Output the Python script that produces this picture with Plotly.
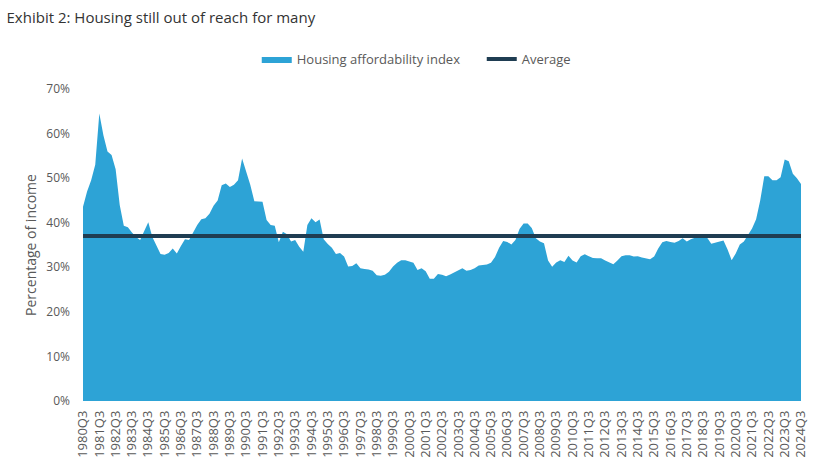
import plotly.graph_objects as go

# Quarter labels 1980Q3 .. 2024Q3
years = list(range(1980, 2025))
quarters = []
for y in years:
    for q in (1, 2, 3, 4):
        if (y == 1980 and q < 3) or (y == 2024 and q > 3):
            continue
        quarters.append(f"{y}Q{q}")

affordability = [
    43.6, 47.0, 49.5, 53.0, 64.5, 59.6, 56.0, 55.2, 52.0, 44.0,
    39.3, 39.0, 37.8, 36.8, 36.1, 38.2, 40.1, 36.8, 35.0, 33.0,
    32.8, 33.2, 34.2, 33.1, 34.8, 36.3, 36.1, 37.8, 39.5, 40.8,
    41.0, 42.0, 43.8, 45.0, 48.4, 48.8, 48.0, 48.5, 49.5, 54.4,
    51.5, 48.5, 44.8, 44.8, 44.7, 40.6, 39.5, 39.3, 35.6, 38.0,
    37.4, 35.8, 36.1, 34.6, 33.5, 39.5, 41.0, 40.1, 40.7, 36.3,
    35.2, 34.4, 33.0, 33.2, 32.4, 30.2, 30.3, 30.9, 29.8, 29.6,
    29.5, 29.2, 28.2, 28.1, 28.3, 29.0, 30.2, 31.0, 31.6, 31.6,
    31.3, 31.0, 29.4, 29.8, 29.1, 27.4, 27.4, 28.5, 28.3, 28.0,
    28.4, 28.9, 29.3, 29.8, 29.2, 29.4, 29.8, 30.4, 30.5, 30.6,
    31.0, 32.3, 34.4, 35.9, 35.7, 35.1, 36.1, 38.6, 39.8, 39.8,
    38.8, 36.5, 35.8, 35.4, 31.5, 30.1, 31.1, 31.6, 31.2, 32.6,
    31.5, 31.1, 32.5, 32.9, 32.5, 32.1, 32.0, 32.0, 31.5, 31.1,
    30.7, 31.5, 32.5, 32.7, 32.7, 32.4, 32.5, 32.2, 32.0, 31.8,
    32.4, 34.2, 35.6, 35.9, 35.7, 35.5, 35.9, 36.5, 35.8, 36.3,
    36.6, 36.8, 37.2, 36.6, 35.3, 35.5, 35.8, 36.0, 34.0, 31.6,
    33.1, 35.1, 35.8, 37.4, 38.7, 40.8, 45.0, 50.4, 50.4, 49.5,
    49.5, 50.2, 54.2, 53.8, 51.0, 50.0, 48.7,
]
average_value = 37.0
average = [average_value] * len(quarters)

tick_labels = quarters[::4]
y_ticks = [0, 10, 20, 30, 40, 50, 60, 70]
y_tick_text = [f"{v}%" for v in y_ticks]

AREA = "#2DA3D6"
AVG = "#1F3D52"
TXT = "#595959"
FONT = "Open Sans, DejaVu Sans, sans-serif"

fig = go.Figure()
fig.add_trace(go.Scatter(
    x=quarters, y=affordability, name="Housing affordability index",
    mode="lines", line=dict(width=0, color=AREA), fill="tozeroy",
    fillcolor=AREA,
))
fig.add_trace(go.Scatter(
    x=quarters, y=average, name="Average",
    mode="lines", line=dict(width=4, color=AVG),
))

fig.update_layout(
    width=817, height=464,
    margin=dict(l=83, r=16, t=89, b=63),
    paper_bgcolor="white", plot_bgcolor="white",
    font=dict(family=FONT, color=TXT, size=12),
    title=dict(text="Exhibit 2: Housing still out of reach for many",
               x=0.008, xanchor="left", y=0.962, yanchor="middle",
               font=dict(family=FONT, size=15, color="#333333")),
    showlegend=True,
    legend=dict(orientation="h", x=0.242, xanchor="left", y=1.096,
                yanchor="middle", font=dict(size=13, color=TXT),
                bgcolor="rgba(0,0,0,0)", traceorder="normal",
                entrywidth=180),
    xaxis=dict(type="category", range=[0, len(quarters) - 1],
               tickmode="array", tickvals=tick_labels, ticktext=tick_labels,
               tickangle=-90, tickfont=dict(size=13, color=TXT),
               ticklabelstandoff=6, automargin=False,
               showgrid=False, showline=False, zeroline=False, ticks=""),
    yaxis=dict(range=[0, 70], tickmode="array", tickvals=y_ticks,
               ticktext=y_tick_text, tickfont=dict(size=12, color=TXT),
               ticklabelstandoff=12, automargin=False,
               showgrid=False, showline=False, zeroline=False, ticks="",
               title=dict(text="Percentage of income", standoff=6,
                          font=dict(size=14, color=TXT))),
)

fig.write_html("out.html", config={"displayModeBar": False})

# remove the default page margin so the figure sits at the window origin
with open("out.html", "r", encoding="utf-8") as f:
    html = f.read()
html = html.replace("<body>", '<body style="margin:0;padding:0;">', 1)
with open("out.html", "w", encoding="utf-8") as f:
    f.write(html)
